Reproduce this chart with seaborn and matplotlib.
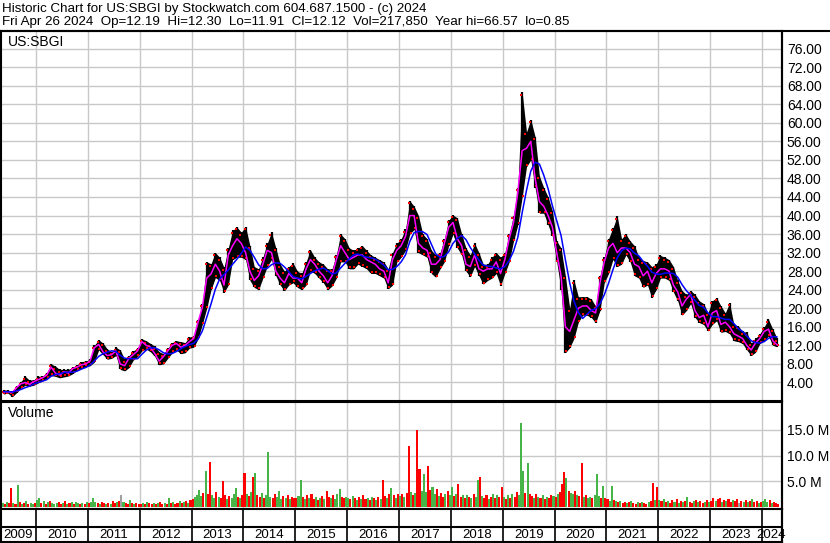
import numpy as np
import pandas as pd
import matplotlib
matplotlib.use("Agg")
import matplotlib.pyplot as plt
from matplotlib.lines import Line2D
import seaborn as sns

# Monthly bars, May 2009 .. Apr 2024
hi = [
    2.4, 2.3, 2.2, 3.2, 4.2, 5.3, 4.5, 4.6,                                   # 2009
    5.3, 5.4, 6.0, 8.0, 7.5, 6.8, 6.8, 6.8, 7.3, 7.8, 8.5, 8.6,               # 2010
    9.0, 12.0, 13.2, 12.5, 11.2, 10.6, 11.6, 11.0, 9.0, 9.8, 10.8, 11.4,      # 2011
    13.4, 13.0, 12.4, 11.8, 10.6, 10.2, 11.4, 12.6, 13.0, 12.8, 12.6, 13.8,   # 2012
    14.0, 17.5, 21.0, 30.0, 29.6, 32.0, 31.0, 28.8, 33.0, 36.8, 37.5, 36.4,   # 2013
    37.6, 33.5, 29.0, 28.5, 31.0, 34.0, 36.4, 33.0, 29.5, 28.0, 29.0, 29.7,   # 2014
    28.0, 27.5, 30.0, 32.6, 31.0, 30.0, 29.5, 28.5, 28.5, 31.5, 36.0, 35.0,   # 2015
    33.0, 32.5, 33.0, 33.5, 32.5, 31.5, 31.0, 30.5, 30.0, 28.5, 32.0, 34.0,   # 2016
    35.0, 37.0, 43.2, 42.0, 40.0, 36.0, 35.0, 32.5, 31.5, 32.0, 35.0, 39.0,   # 2017
    40.1, 39.5, 36.0, 33.0, 31.5, 34.0, 32.0, 29.5, 29.5, 31.0, 32.0, 31.0,   # 2018
    32.0, 36.0, 40.0, 46.0, 66.6, 58.0, 60.7, 57.0, 48.5, 46.0, 44.0, 41.0,   # 2019
    34.5, 33.0, 27.0, 20.0, 26.0, 22.5, 22.5, 22.5, 22.0, 20.5, 27.0, 31.0,   # 2020
    35.0, 37.3, 39.8, 35.0, 36.0, 34.5, 33.5, 31.0, 30.3, 30.0, 29.0, 29.5,   # 2021
    31.4, 31.0, 30.5, 29.0, 26.0, 23.8, 23.0, 23.8, 23.0, 21.6, 21.0, 19.0,   # 2022
    21.6, 22.3, 20.5, 19.0, 21.1, 16.5, 16.2, 15.0, 14.8, 12.5, 13.5, 14.5,   # 2023
    16.0, 17.6, 15.5, 13.5,                                                   # 2024
]
lo = [
    1.5, 1.7, 0.9, 1.8, 2.8, 3.4, 3.2, 3.4,
    3.9, 4.3, 4.9, 5.5, 5.3, 5.0, 5.2, 5.4, 5.9, 6.6, 7.0, 7.4,
    7.6, 8.4, 11.0, 10.0, 9.0, 9.2, 9.8, 6.8, 6.5, 7.2, 8.8, 9.6,
    10.8, 11.2, 10.6, 9.6, 7.8, 8.0, 9.2, 10.4, 11.0, 10.2, 10.4, 11.4,
    11.6, 13.4, 16.6, 20.0, 24.0, 26.6, 26.0, 23.4, 25.0, 30.5, 31.0, 31.0,
    30.5, 26.0, 24.5, 24.0, 26.5, 29.0, 30.5, 27.0, 25.0, 23.8, 25.0, 25.5,
    24.5, 24.0, 25.0, 28.0, 27.5, 26.5, 25.5, 24.0, 24.8, 26.5, 30.0, 30.0,
    28.5, 28.5, 29.5, 29.0, 28.5, 27.5, 27.5, 27.0, 26.5, 24.2, 25.0, 30.0,
    31.0, 32.5, 36.0, 37.0, 32.0, 31.5, 31.0, 27.5, 26.7, 28.5, 30.0, 33.5,
    36.0, 33.0, 31.5, 28.0, 26.8, 29.0, 27.0, 25.2, 26.0, 26.5, 27.5, 24.9,
    27.5, 30.0, 34.5, 38.0, 44.0, 50.5, 52.0, 46.0, 40.5, 40.5, 38.0, 35.5,
    30.0, 24.0, 10.4, 11.5, 13.5, 17.0, 18.5, 18.5, 18.0, 16.9, 19.5, 25.5,
    27.5, 30.5, 29.0, 29.5, 31.5, 30.0, 27.0, 26.5, 24.5, 25.0, 22.3, 24.0,
    26.5, 26.5, 26.0, 23.5, 21.6, 18.5, 19.5, 21.0, 18.0, 16.9, 16.5, 15.1,
    16.5, 17.3, 14.8, 15.0, 14.5, 13.0, 12.8, 12.4, 11.0, 9.8, 10.5, 12.4,
    13.0, 14.0, 12.0, 11.7,
]
# magenta line (short average), read once a month
avg_short = [
    2.0, 2.0, 1.8, 2.9, 3.7, 4.0, 3.6, 4.2,
    4.6, 5.0, 5.6, 7.3, 6.0, 5.6, 6.3, 6.0, 7.0, 7.3, 7.8, 8.0,
    8.6, 11.5, 12.2, 10.6, 9.8, 10.0, 10.8, 8.0, 7.6, 9.2, 10.0, 10.8,
    12.8, 12.0, 11.6, 10.2, 8.6, 9.6, 10.8, 12.0, 12.4, 11.6, 12.0, 12.8,
    13.5, 17.0, 20.2, 26.5, 27.4, 29.5, 28.0, 25.0, 31.5, 33.5, 35.0, 34.0,
    32.0, 28.0, 26.0, 27.0, 29.5, 32.5, 32.0, 28.0, 26.5, 25.5, 27.5, 26.5,
    26.5, 25.5, 28.5, 30.5, 29.5, 28.0, 27.0, 25.5, 27.0, 30.5, 33.5, 32.0,
    30.5, 31.0, 31.5, 31.5, 30.5, 30.0, 29.5, 28.5, 28.0, 25.5, 30.5, 32.5,
    33.5, 35.5, 40.0, 40.0, 34.0, 33.0, 32.5, 29.5, 29.5, 30.5, 34.0, 37.5,
    38.5, 35.0, 33.5, 29.5, 29.0, 31.5, 28.5, 28.0, 28.5, 28.5, 30.0, 27.5,
    30.5, 35.0, 38.5, 45.0, 54.0, 54.5, 56.0, 48.0, 43.0, 42.0, 40.0, 37.5,
    32.0, 27.0, 16.0, 15.0, 17.5, 20.0, 20.5, 20.5, 19.5, 19.0, 25.5, 30.0,
    33.0, 34.0, 32.0, 33.0, 33.0, 32.0, 29.5, 29.0, 27.0, 28.0, 25.5, 27.5,
    28.5, 28.5, 28.0, 25.0, 23.5, 20.5, 22.0, 23.0, 19.5, 18.0, 18.5, 16.0,
    19.0, 19.5, 16.5, 17.0, 16.0, 14.5, 14.0, 13.5, 12.0, 11.0, 12.5, 13.5,
    15.0, 15.5, 13.0, 12.1,
]

# Volume (millions), two readings per month; colour r = down, g = up, n = flat
volume = [
    0.9, 0.7, 1.1, 0.8, 3.7, 0.9, 0.6, 4.4, 1.0, 0.7, 0.8, 1.2, 0.6, 0.9, 0.7, 0.8,
    1.4, 1.8, 0.9, 1.2, 0.7, 1.0, 1.3, 0.8, 0.6, 0.9, 1.1, 0.7, 0.8, 1.2, 0.6, 0.9, 1.0, 0.7, 1.1, 0.8, 0.6, 0.9, 0.7, 1.0,
    0.8, 1.0, 1.9, 1.1, 0.9, 0.7, 1.0, 0.8, 0.6, 0.9, 0.7, 1.2, 0.8, 1.0, 1.3, 2.4, 1.1, 0.9, 0.7, 1.4, 0.8, 0.6, 0.9, 0.7,
    0.7, 0.9, 0.6, 1.0, 0.8, 0.7, 0.9, 0.6, 0.8, 1.1, 0.7, 0.9, 0.6, 1.9, 0.8, 1.0, 0.7, 0.9, 1.2, 0.8, 1.0, 1.3, 0.9, 1.5,
    1.6, 2.0, 2.4, 3.4, 2.2, 2.8, 7.1, 2.5, 8.8, 2.3, 1.9, 3.0, 2.1, 1.8, 5.1, 2.4, 1.7, 2.2, 1.9, 2.6, 3.7, 2.0, 1.8, 2.3,
    6.7, 2.6, 2.2, 3.0, 5.9, 6.7, 2.4, 2.0, 2.7, 1.9, 2.3, 10.6, 2.1, 1.8, 2.5, 2.0, 3.2, 1.7, 2.2, 1.9, 2.4, 1.6, 2.0, 1.8,
    1.8, 2.2, 5.3, 2.0, 1.6, 2.4, 1.9, 2.6, 1.7, 2.1, 1.5, 1.9, 2.2, 1.6, 3.1, 2.0, 1.8, 2.3, 1.7, 2.5, 3.6, 2.1, 1.8, 2.0,
    1.9, 1.6, 2.2, 1.8, 1.5, 2.0, 1.7, 2.3, 1.6, 1.9, 1.4, 2.1, 1.8, 1.5, 2.0, 1.7, 5.3, 2.2, 1.9, 2.6, 3.7, 2.4, 1.8, 2.5,
    2.2, 2.6, 2.0, 2.8, 11.9, 3.0, 2.4, 2.7, 15.0, 7.4, 3.2, 6.4, 2.9, 8.0, 3.3, 3.9, 2.5, 3.6, 2.2, 2.8, 2.1, 2.6, 3.1, 2.4,
    3.9, 2.2, 2.6, 4.6, 2.1, 2.4, 1.9, 2.3, 2.0, 1.8, 2.5, 2.0, 5.2, 5.9, 2.2, 1.9, 2.4, 1.7, 2.1, 2.6, 1.8, 2.3, 2.0, 4.0,
    2.0, 1.7, 2.3, 1.8, 2.6, 2.1, 2.9, 2.4, 16.2, 7.1, 2.8, 8.5, 2.5, 2.2, 1.9, 2.6, 2.0, 1.8, 2.3, 1.7, 2.1, 1.9, 2.4, 2.2,
    2.1, 2.6, 3.0, 4.6, 6.8, 5.6, 3.2, 2.8, 2.5, 3.1, 2.4, 2.2, 8.6, 2.0, 2.3, 1.8, 2.1, 1.9, 2.4, 6.5, 2.2, 1.8, 4.1, 1.9,
    1.6, 1.3, 4.1, 1.5, 1.2, 1.0, 1.3, 0.9, 1.1, 0.8, 1.0, 1.2, 0.9, 0.7, 1.0, 0.8, 1.1, 0.9, 0.7, 1.0, 1.3, 4.7, 1.4, 3.9,
    1.5, 1.2, 1.7, 1.0, 1.3, 0.9, 1.4, 1.1, 1.6, 0.9, 1.2, 1.0, 1.3, 2.0, 1.1, 0.8, 1.2, 1.5, 1.0, 1.3, 0.9, 1.1, 1.4, 1.0,
    1.3, 1.8, 1.2, 1.6, 1.9, 1.1, 1.5, 1.3, 1.7, 1.0, 1.4, 1.2, 1.6, 0.9, 1.3, 1.1, 1.5, 1.0, 1.2, 1.6, 1.0, 1.3, 0.9, 1.1,
    1.2, 1.7, 1.0, 1.4, 0.9, 1.1, 0.8, 0.6,
]
vol_dir = (
    "grgrrgrgrgrgrggr"
    "ggrgrgrgggrrgrgrgrggrgrg"
    "rgggrgrrgrgrrgrngrrgrgrr"
    "rgrgrrgrgrrgrgrgrrgrgrgr"
    "rggggrgrrggrgrrrgrgggrgr"
    "rgrgrgrrgrgggrrgggrgrgrr"
    "rggrgrgrrgrgrgrrgrgggrrg"
    "grgrgrgrrgrgrgrgrrgrgrgr"
    "grgrrgrgrrgggrrggrgrrgrg"
    "grgrrgrgrgrggrgrrgrgrgrr"
    "grgrgrrgggrgrrgrgrgrgrrg"
    "rgrrrgrggrgrrgrggrgggrgr"
    "rggrgrgrrgrgrrgrgrrgrrgr"
    "grgrgrrgrgrgrgrrgrgrrgrg"
    "rrgrrgrgrrgrrnrgrgrgrrgr"
    "gggrgrrr"
)
years = list(range(2009, 2025))

# ---- frames ----
months = pd.period_range("2009-05", "2024-04", freq="M")
t_mid = np.asarray(months.year + (months.month - 0.5) / 12.0)
px = pd.DataFrame({"t": t_mid, "hi": hi, "lo": lo, "avg": avg_short})
px["avg_long"] = px["avg"].rolling(5, min_periods=1).mean()

t_start = np.asarray(months.year + (months.month - 1) / 12.0)
t_half = (t_start[:, None] + np.array([0.25, 0.75]) / 12.0).ravel()
vol_colors = {"r": "#ff0000", "g": "#46b446", "n": "#a0a0a0"}
vf = pd.DataFrame({"t": t_half, "vol": volume, "c": [vol_colors[c] for c in vol_dir]})

# ---- figure, laid out in pixels ----
sns.set_theme(style="white")
plt.rcParams["font.family"] = ["Liberation Sans", "DejaVu Sans"]
W, H = 830, 543
fig = plt.figure(figsize=(W / 100, H / 100), dpi=100)
fig.patch.set_facecolor("white")


def axes_px(x0, y0, x1, y1):
    return fig.add_axes([x0 / W, 1 - y1 / H, (x1 - x0) / W, (y1 - y0) / H])


xlim = (2009.325, 2024.386)
grid_c = "#c8c8c8"
fs = 10

ax = axes_px(1, 31, 782, 401)
axv = axes_px(1, 402, 782, 509)
axd = axes_px(1, 509, 782, 542)

for a in (ax, axv, axd):
    a.set_xlim(*xlim)
    a.set_facecolor("white")
    for s in a.spines.values():
        s.set_color("black")
        s.set_linewidth(1.5)
        s.set_zorder(10)

# price panel
ax.set_ylim(0, 79.8)
price_ticks = np.arange(4, 80, 4)
ax.set_yticks(price_ticks)
ax.set_yticklabels([f"{v:.2f}" for v in price_ticks])
ax.set_xticks([])
ax.yaxis.tick_right()
ax.tick_params(axis="both", length=0, labelsize=fs, colors="black", pad=3.5)
for v in price_ticks:
    ax.axhline(v, color=grid_c, lw=1.0, zorder=0.5)
for y in years[1:]:
    ax.axvline(y, color=grid_c, lw=1.0, zorder=0.5)

ax.fill_between(px["t"], px["lo"], px["hi"], color="black", lw=0, zorder=2)
ax.vlines(px["t"], px["lo"], px["hi"], color="black", lw=1.6, zorder=2)
ax.scatter(px["t"] + 0.015, px["lo"] + 0.3, marker="s", s=3, color="red", lw=0, zorder=3)
ax.scatter(px["t"] - 0.02, px["hi"] - 0.5, marker="s", s=2, color="red", lw=0, zorder=3)
sns.lineplot(data=px, x="t", y="avg", ax=ax, color="#ff00ff", lw=1.1, zorder=4)
sns.lineplot(data=px, x="t", y="avg_long", ax=ax, color="#0000ff", lw=1.1, zorder=5)
ax.set_xlabel("")
ax.set_ylabel("")
ax.text(7 / 781, 1 - 11 / 370, "US:SBGI", transform=ax.transAxes, fontsize=fs,
        va="center", ha="left", color="black")

# volume panel
axv.set_ylim(-0.3, 20.3)
axv.set_yticks([5, 10, 15])
axv.set_yticklabels(["5.0 M", "10.0 M", "15.0 M"])
axv.set_xticks([])
axv.yaxis.tick_right()
axv.tick_params(axis="both", length=0, labelsize=fs, colors="black", pad=3.5)
for v in (5, 10, 15):
    axv.axhline(v, color=grid_c, lw=1.0, zorder=0.5)
for y in years[1:]:
    axv.axvline(y, color=grid_c, lw=1.0, zorder=0.5)
axv.bar(vf["t"], vf["vol"], width=0.95 / 24, color=vf["c"], lw=0, zorder=2)
axv.text(7 / 781, 1 - 11 / 107, "Volume", transform=axv.transAxes, fontsize=fs,
         va="center", ha="left", color="black")

# date strip
axd.set_ylim(0, 1)
axd.set_xticks([])
axd.set_yticks([])
axd.vlines(years[1:], 0, 1, color="black", lw=1.2)
axd.axhline(15 / 33, color="black", lw=1.5)
edges = [xlim[0]] + years[1:] + [xlim[1]]
for y, a0, a1 in zip(years, edges[:-1], edges[1:]):
    xc = (a0 + a1) / 2 if y != 2024 else 2024.17
    axd.text(xc, 7 / 33, str(y), ha="center", va="center", fontsize=9.5, color="black")

# header
fig.text(2 / W, 1 - 9 / H, "Historic Chart for US:SBGI by Stockwatch.com 604.687.1500 - (c) 2024",
         fontsize=9.6, va="center", ha="left", color="black")
fig.text(2 / W, 1 - 22 / H,
         "Fri Apr 26 2024  Op=12.19  Hi=12.30  Lo=11.91  Cl=12.12  Vol=217,850  Year hi=66.57  lo=0.85",
         fontsize=9.6, va="center", ha="left", color="black")
fig.add_artist(Line2D([0, 1], [1 - 31 / H, 1 - 31 / H], transform=fig.transFigure, color="black", lw=1.5))
fig.add_artist(Line2D([782 / W, 782 / W], [0, 1 - 31 / H], transform=fig.transFigure, color="black", lw=1.5))

fig.savefig("out.png", dpi=100, facecolor="white")
